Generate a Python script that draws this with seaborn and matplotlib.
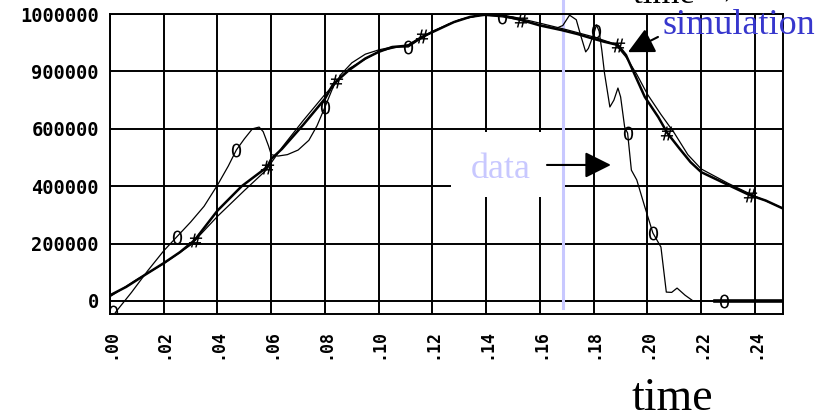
import numpy as np
import pandas as pd
import matplotlib
matplotlib.use("Agg")
import matplotlib.pyplot as plt
from matplotlib.patches import Rectangle
import seaborn as sns

# ---------------- data ----------------
data_t = [0.002, 0.008, 0.014, 0.020, 0.0248, 0.030, 0.035, 0.040, 0.044, 0.047,
          0.050, 0.053, 0.0555, 0.057, 0.059, 0.060, 0.0625, 0.066, 0.070, 0.074,
          0.077, 0.080, 0.083, 0.086, 0.090, 0.095, 0.100, 0.105, 0.111, 0.115,
          0.120, 0.126, 0.132, 0.138, 0.146, 0.153, 0.160, 0.166, 0.1685, 0.171,
          0.1735, 0.175, 0.177, 0.178, 0.180, 0.181, 0.182, 0.183, 0.184, 0.186,
          0.1875, 0.189, 0.190, 0.1915, 0.1926, 0.194, 0.196, 0.199, 0.202, 0.205,
          0.207, 0.209, 0.211, 0.214, 0.217, 0.225, 0.250]
data_v = [-40000, 30000, 105000, 175000, 223000, 275000, 330000, 404000, 470000, 526000,
          565000, 600000, 606000, 590000, 540000, 510000, 505000, 510000, 526000, 560000,
          610000, 676000, 745000, 790000, 830000, 860000, 875000, 885000, 885000, 910000,
          937000, 965000, 985000, 996000, 990000, 979000, 962000, 950000, 960000, 996000,
          980000, 930000, 868000, 880000, 930000, 962000, 940000, 874000, 794000, 676000,
          700000, 742000, 711000, 606000, 585000, 456000, 422000, 328000, 237000, 188000,
          31000, 30000, 45000, 20000, 0, 0, 0]
data_mark_t = [0.001, 0.0248, 0.047, 0.080, 0.111, 0.146, 0.181, 0.1926, 0.202, 0.2285]
data_mark_v = [-38000, 223000, 526000, 676000, 885000, 990000, 940000, 585000, 237000, 0]

sim1_t = [0.000, 0.006, 0.013, 0.020, 0.026, 0.0315, 0.040, 0.049, 0.0585, 0.060,
          0.064, 0.072, 0.080, 0.083, 0.089, 0.095, 0.100, 0.105, 0.111, 0.116,
          0.120, 0.128, 0.134, 0.140, 0.146, 0.153, 0.160, 0.168, 0.174, 0.179,
          0.184, 0.189, 0.192, 0.195, 0.199, 0.204, 0.2074, 0.212, 0.216, 0.220,
          0.2285, 0.238, 0.244, 0.250]
sim1_v = [20000, 49000, 91000, 132000, 170000, 212000, 315000, 400000, 467000, 495000,
          530000, 615000, 705000, 755000, 805000, 845000, 868000, 885000, 890000, 920000,
          937000, 972000, 990000, 998000, 995000, 979000, 960000, 944000, 930000, 916000,
          903000, 892000, 857000, 794000, 711000, 641000, 585000, 530000, 484000, 449000,
          411000, 369000, 350000, 324000]
sim1_mark_t = [0.0315, 0.0585, 0.084, 0.116, 0.153, 0.189, 0.2074, 0.238]
sim1_mark_v = [212000, 467000, 765000, 925000, 979000, 892000, 585000, 369000]

sim2_t = [0.000, 0.010, 0.020, 0.030, 0.040, 0.050, 0.058, 0.064, 0.072, 0.080,
          0.089, 0.100, 0.111, 0.120, 0.130, 0.140, 0.150, 0.160, 0.170, 0.180,
          0.188, 0.192, 0.196, 0.200, 0.205, 0.210, 0.215, 0.220, 0.230, 0.240, 0.250]
sim2_v = [15000, 75000, 130000, 195000, 295000, 385000, 455000, 535000, 630000, 720000,
          810000, 870000, 893000, 940000, 980000, 1000000, 990000, 968000, 945000, 920000,
          895000, 850000, 790000, 720000, 650000, 585000, 510000, 460000, 410000, 365000, 325000]

x_ticks = [0.00, 0.02, 0.04, 0.06, 0.08, 0.10, 0.12, 0.14, 0.16, 0.18, 0.20, 0.22, 0.24]
x_tick_labels = [".00", ".02", ".04", ".06", ".08", ".10", ".12", ".14", ".16",
                 ".18", ".20", ".22", ".24"]
y_ticks = [0, 200000, 400000, 600000, 800000, 1000000]
y_tick_labels = ["0", "200000", "400000", "600000", "900000", "1000000"]

# ---------------- figure ----------------
W, H = 828, 420
fig = plt.figure(figsize=(W / 100, H / 100), dpi=100)
ax = fig.add_axes([110 / W, 106 / H, 673 / W, 300 / H])
ax.set_xlim(0, 0.25042)
ax.set_ylim(-45300, 1000000)

ax.set_axisbelow(True)
ax.grid(True, color="black", lw=1.4)
for s in ax.spines.values():
    s.set_color("black")
    s.set_linewidth(1.4)

mono = "DejaVu Sans Mono"
ax.set_xticks(x_ticks)
ax.set_xticklabels(x_tick_labels, rotation=90, family=mono, fontsize=12, weight="bold")
ax.set_yticks(y_ticks)
ax.set_yticklabels(y_tick_labels, family=mono, fontsize=13.5, weight="bold")
ax.tick_params(axis="x", length=0, pad=11)
ax.tick_params(axis="y", length=0, pad=8)

# white box behind the "data" label
ax.add_patch(Rectangle((0.1269, 362000), 0.1686 - 0.1269, 589000 - 362000,
                       facecolor="white", edgecolor="none", zorder=1.5))
# lavender vertical marker line
ax.plot([0.1686, 0.1686], [-24000, 1060000], color="#c8c8ff", lw=2.2,
        clip_on=False, zorder=1.8)

df_data = pd.DataFrame({"t": data_t, "v": data_v})
df_tail = df_data[df_data["t"] >= 0.225]
df_s1 = pd.DataFrame({"t": sim1_t, "v": sim1_v})
df_s2 = pd.DataFrame({"t": sim2_t, "v": sim2_v})

sns.lineplot(data=df_s2, x="t", y="v", ax=ax, color="black", lw=0.9,
             sort=False, estimator=None, zorder=3)
sns.lineplot(data=df_s1, x="t", y="v", ax=ax, color="black", lw=1.8,
             sort=False, estimator=None, zorder=3)
sns.lineplot(data=df_data, x="t", y="v", ax=ax, color="black", lw=0.9,
             sort=False, estimator=None, zorder=3)
sns.lineplot(data=df_tail, x="t", y="v", ax=ax, color="black", lw=2.6,
             sort=False, estimator=None, zorder=3)
sns.scatterplot(x=data_mark_t, y=data_mark_v, ax=ax, marker="$0$", s=100,
                color="black", linewidth=0, zorder=4)
sns.scatterplot(x=sim1_mark_t, y=sim1_mark_v, ax=ax, marker="$\\#$", s=100,
                color="black", linewidth=0, zorder=4)

ax.set_xlabel("")
ax.set_ylabel("")

# arrows
arrow_kw = dict(arrowstyle="-|>,head_length=0.4,head_width=0.2", mutation_scale=40,
                color="black", lw=1.5, shrinkA=0, shrinkB=0)
ax.annotate("", xy=(0.1864, 474000), xytext=(0.1626, 474000),
            arrowprops=arrow_kw, annotation_clip=False)
ax.annotate("", xy=(0.1927, 867000), xytext=(0.2039, 920000),
            arrowprops=arrow_kw, annotation_clip=False)

serif = "Liberation Serif"
fig.text(471 / W, 1 - 178 / H, "data", family=serif, fontsize=26, color="#c8c8ff",
         va="baseline", ha="left")
fig.text(663 / W, 1 - 34 / H, "simulation", family=serif, fontsize=26, color="#3737cd",
         va="baseline", ha="left")
fig.text(631 / W, 1 - 410 / H, "time", family=serif, fontsize=33, color="black",
         va="baseline", ha="left")
fig.text(633 / W, 1 - 3 / H, "time \u2192", family=serif, fontsize=25, color="black",
         va="baseline", ha="left")

fig.savefig("out.png", dpi=100)
